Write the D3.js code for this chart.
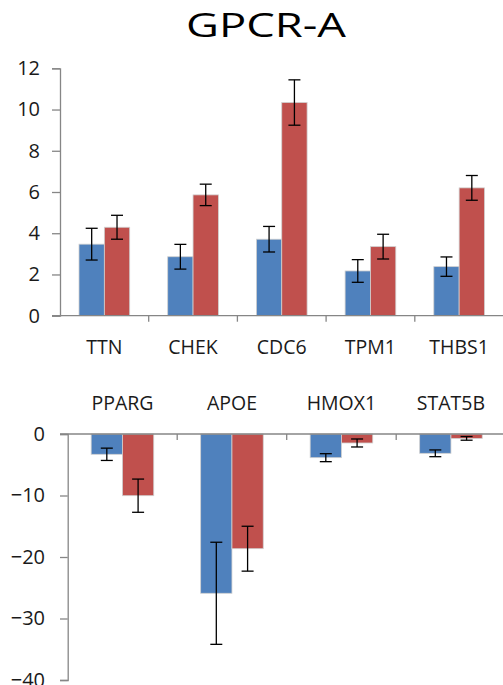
<!DOCTYPE html>
<html>
<head>
<meta charset="utf-8">
<script src="https://cdn.jsdelivr.net/npm/d3@7"></script>
<style>
  body { margin: 0; background: #fff; }
  text { font-family: "Open Sans", sans-serif; fill: #1a1a1a; }
</style>
</head>
<body>
<div id="chart"></div>
<script>
// Data
const series = ["blue", "red"];
const seriesColors = ["#4F81BD", "#C0504D"];

const topCategories = ["TTN", "CHEK", "CDC6", "TPM1", "THBS1"];
const topBlue = [3.47, 2.86, 3.71, 2.17, 2.38];
const topBlueErr = [0.77, 0.6, 0.62, 0.55, 0.47];
const topRed = [4.29, 5.86, 10.34, 3.35, 6.2];
const topRedErr = [0.58, 0.52, 1.1, 0.6, 0.6];
const topTicks = [0, 2, 4, 6, 8, 10, 12];

const bottomCategories = ["PPARG", "APOE", "HMOX1", "STAT5B"];
const bottomBlue = [-3.3, -25.9, -3.85, -3.14];
const bottomBlueErr = [1.0, 8.3, 0.65, 0.55];
const bottomRed = [-10.03, -18.65, -1.46, -0.71];
const bottomRedErr = [2.7, 3.65, 0.65, 0.3];
const bottomTicks = [0, -10, -20, -30, -40];

const width = 503, height = 685;
const axisColor = "#868686";

const svg = d3.select("#chart").append("svg")
    .attr("width", width)
    .attr("height", height);

// Title
svg.append("text")
    .attr("x", 266)
    .attr("y", 37)
    .attr("text-anchor", "middle")
    .attr("textLength", 160)
    .attr("lengthAdjust", "spacingAndGlyphs")
    .style("font-size", "33px")
    .style("fill", "#000")
    .text("GPCR-A");

function groupedBars(opts) {
    const { categories, blue, blueErr, red, redErr, ticks, xRange, yDomain, yRange,
            tickSize, tickPadding, labelY } = opts;

    const x = d3.scaleBand().domain(categories).range(xRange).paddingInner(0).paddingOuter(0);
    const xs = d3.scaleBand().domain(series).range([0, x.bandwidth()]).paddingInner(0).paddingOuter(0.75);
    const y = d3.scaleLinear().domain(yDomain).range(yRange);

    const rows = categories.map((c, i) => ({
        cat: c,
        vals: [
            { s: "blue", v: blue[i], e: blueErr[i], color: seriesColors[0] },
            { s: "red", v: red[i], e: redErr[i], color: seriesColors[1] }
        ]
    }));

    const g = svg.append("g");

    // Y axis
    const yAxis = g.append("g")
        .attr("transform", `translate(${xRange[0]},0)`)
        .call(d3.axisLeft(y).tickValues(ticks).tickSize(tickSize).tickPadding(tickPadding).tickFormat(d3.format("d")));
    yAxis.select(".domain").attr("stroke", axisColor).attr("stroke-width", 1.3);
    yAxis.selectAll(".tick line").attr("stroke", axisColor).attr("stroke-width", 1.3);
    yAxis.selectAll(".tick text")
        .style("font-size", "20px")
        .style("font-family", "'Open Sans', sans-serif")
        .attr("fill", "#1a1a1a");

    // Bars
    const grp = g.selectAll(".cat").data(rows).join("g")
        .attr("transform", d => `translate(${x(d.cat)},0)`);

    grp.selectAll("rect").data(d => d.vals).join("rect")
        .attr("x", d => xs(d.s))
        .attr("width", xs.bandwidth())
        .attr("y", d => Math.min(y(d.v), y(0)))
        .attr("height", d => Math.abs(y(d.v) - y(0)))
        .attr("fill", d => d.color)
        .attr("stroke", "#d0d0d0")
        .attr("stroke-width", 0.8);

    // Error bars
    const cap = 6;
    const err = grp.selectAll(".err").data(d => d.vals).join("g")
        .attr("class", "err")
        .attr("transform", d => `translate(${xs(d.s) + xs.bandwidth() / 2},0)`);
    err.append("line")
        .attr("y1", d => y(d.v - d.e)).attr("y2", d => y(d.v + d.e))
        .attr("stroke", "#000").attr("stroke-width", 1.3);
    err.append("line")
        .attr("x1", -cap).attr("x2", cap)
        .attr("y1", d => y(d.v - d.e)).attr("y2", d => y(d.v - d.e))
        .attr("stroke", "#000").attr("stroke-width", 1.3);
    err.append("line")
        .attr("x1", -cap).attr("x2", cap)
        .attr("y1", d => y(d.v + d.e)).attr("y2", d => y(d.v + d.e))
        .attr("stroke", "#000").attr("stroke-width", 1.3);

    // X axis at zero
    const y0 = y(0);
    g.append("line")
        .attr("x1", xRange[0] - tickSize).attr("x2", xRange[1])
        .attr("y1", y0).attr("y2", y0)
        .attr("stroke", axisColor).attr("stroke-width", 1.3);
    g.selectAll(".cattick").data(categories.slice(1)).join("line")
        .attr("x1", d => x(d)).attr("x2", d => x(d))
        .attr("y1", y0).attr("y2", y0 + 6)
        .attr("stroke", axisColor).attr("stroke-width", 1.3);

    // Category labels
    g.selectAll(".catlabel").data(categories).join("text")
        .attr("x", d => x(d) + x.bandwidth() / 2)
        .attr("y", labelY)
        .attr("text-anchor", "middle")
        .style("font-size", "19.5px")
        .text(d => d);
}

groupedBars({
    categories: topCategories, blue: topBlue, blueErr: topBlueErr, red: topRed, redErr: topRedErr,
    ticks: topTicks, xRange: [60, 503.5], yDomain: [0, 12], yRange: [315.7, 68.3],
    tickSize: 8, tickPadding: 12, labelY: 353.5
});

groupedBars({
    categories: bottomCategories, blue: bottomBlue, blueErr: bottomBlueErr, red: bottomRed, redErr: bottomRedErr,
    ticks: bottomTicks, xRange: [67.7, 505.7], yDomain: [-40, 0], yRange: [680, 434],
    tickSize: 7.7, tickPadding: 15, labelY: 409.5
});
</script>
</body>
</html>
